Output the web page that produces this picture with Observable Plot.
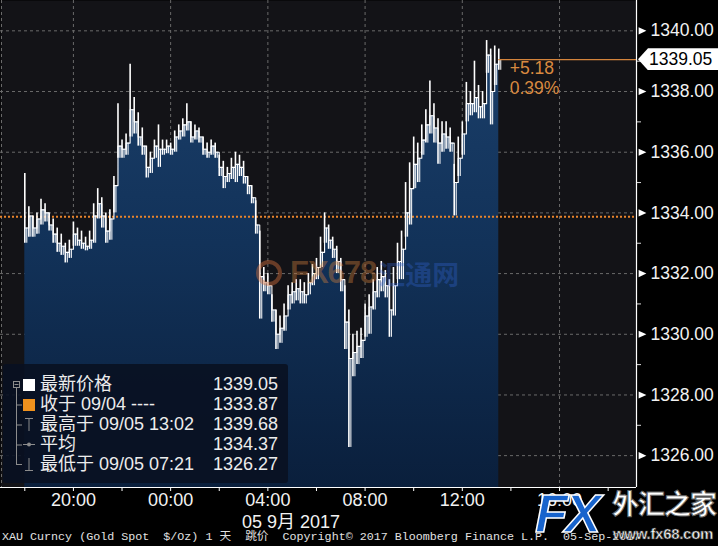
<!DOCTYPE html>
<html>
<head>
<meta charset="utf-8">
<script src="https://cdn.jsdelivr.net/npm/d3@7"></script>
<script src="https://cdn.jsdelivr.net/npm/@observablehq/plot@0.6"></script>
<style>
html, body { margin:0; padding:0; background:#000; }
#wrap { position:relative; width:718px; height:546px; overflow:hidden; background:#000;
  font-family:"Liberation Sans","Noto Sans CJK SC",sans-serif; color:#f0f0f0; }
#wrap > svg { position:absolute; left:0; top:0; }
#legend { position:absolute; left:3px; top:364px; width:285px; height:119px; background:rgba(9,17,33,0.9); border-radius:3px; }
#legend svg { position:absolute; left:0; top:0; }
.lrow { position:absolute; left:0; width:285px; height:20px; font-size:18px; line-height:20px; color:#ececec; }
.lrow .lab { position:absolute; left:37px; white-space:pre; }
.lrow .val { position:absolute; right:10px; }
#dateLabel { position:absolute; left:241px; width:100px; top:507px; text-align:center; font-size:18px; white-space:nowrap; color:#f2f2f2; }
#footer { position:absolute; left:2px; top:530px; height:15px; line-height:15px; font-family:"Liberation Mono","DejaVu Sans Mono","Noto Sans CJK SC",monospace; font-size:11.7px; white-space:pre; color:#e2e2e2; }
#wm678 { position:absolute; left:256px; top:257px; height:32px; display:flex; align-items:center; white-space:nowrap; }
#wm678 .ring { width:18px; height:18px; border-radius:50%; border:4px solid rgba(210,110,60,0.45); margin-right:8px; }
#wm678 .a { font-size:31px; font-weight:bold; color:rgba(205,125,60,0.42); letter-spacing:-1px; }
#wm678 .b { font-size:27px; font-weight:bold; color:rgba(50,100,210,0.35); margin-left:2px; }
#wmfx { position:absolute; left:535px; top:487px; width:183px; height:59px; }
#wmfx .fx { position:absolute; left:0; top:-1px; font-size:54px; line-height:54px; height:54px; font-weight:bold; font-style:italic; color:#1763cc; -webkit-text-stroke:1.5px #ffffff; letter-spacing:-3px; }
#wmfx .cn { position:absolute; left:77px; top:2px; font-size:27px; line-height:32px; height:32px; font-weight:bold; color:#ffffff; -webkit-text-stroke:1px #666; letter-spacing:-1px; white-space:nowrap; }
#wmfx .url { position:absolute; left:78px; top:38px; font-size:15px; line-height:17px; height:17px; font-weight:bold; color:#ffffff; -webkit-text-stroke:0.7px #444; white-space:nowrap; letter-spacing:-0.3px; }
#lastBox { position:absolute; left:638px; width:80px; height:22px; background:#ffffff; clip-path:polygon(0 50%, 10px 0, 100% 0, 100% 100%, 10px 100%); }
#lastBox span { position:absolute; left:11px; top:0; line-height:22px; font-size:17.5px; color:#000; }
</style>
</head>
<body>
<div id="wrap"></div>
<script>
// ---------------- data ----------------
const startUTC = Date.UTC(2017, 8, 4, 18, 0);   // first 10-minute bar (18:00)
const barMinutes = 10;
const high = [
1335.3,1334.2,1333.9,1334.0,1334.45,1334.3,1334.0,1333.8,1333.5,1333.3,
1333.0,1333.1,1333.7,1333.5,1333.4,1333.2,1333.4,1334.3,1334.8,1334.5,
1334.0,1334.1,1335.2,1337.6,1336.4,1336.6,1338.9,1337.8,1337.3,1336.8,
1336.2,1336.0,1336.4,1336.9,1336.4,1336.4,1336.3,1336.7,1336.9,1337.1,
1337.6,1337.0,1336.9,1336.8,1336.5,1336.3,1336.4,1336.3,1335.9,1335.7,
1335.5,1335.8,1336.0,1335.9,1335.7,1335.2,1334.9,1334.4,1333.4,1332.2,
1332.0,1331.3,1330.8,1330.6,1331.0,1331.6,1331.7,1331.8,1331.8,1331.7,
1332.0,1332.3,1332.5,1333.2,1334.0,1333.6,1333.2,1332.9,1332.5,1331.6,
1330.8,1330.0,1330.1,1330.2,1331.0,1331.3,1331.8,1332.2,1332.4,1332.1,
1331.8,1332.2,1333.0,1333.4,1335.0,1335.65,1336.5,1336.3,1336.9,1337.4,
1338.35,1337.6,1337.1,1337.0,1337.0,1336.8,1335.6,1336.5,1337.0,1338.3,
1338.0,1339.0,1338.2,1338.0,1339.68,1339.4,1339.5,1339.4
];
const low = [
1333.0,1333.2,1333.2,1333.3,1333.6,1333.7,1333.4,1333.0,1332.7,1332.6,
1332.35,1332.5,1332.9,1332.9,1332.8,1332.75,1332.8,1333.0,1333.8,1333.5,
1333.0,1333.1,1334.0,1335.8,1335.8,1335.9,1336.5,1336.6,1336.2,1335.9,
1335.15,1335.3,1335.8,1335.5,1335.9,1335.95,1335.9,1336.0,1336.4,1336.5,
1336.7,1336.3,1336.4,1336.3,1335.9,1335.8,1335.9,1335.8,1335.2,1334.8,
1335.0,1335.1,1335.0,1335.2,1334.95,1334.6,1334.3,1333.3,1330.5,1331.4,
1331.3,1330.4,1329.5,1329.7,1330.1,1330.8,1331.0,1331.1,1331.0,1331.0,
1331.3,1331.6,1331.8,1332.2,1333.0,1332.8,1332.5,1332.0,1331.4,1329.5,
1326.27,1328.6,1329.0,1329.2,1329.9,1330.0,1330.8,1331.2,1331.4,1331.2,
1329.9,1330.6,1331.8,1331.8,1333.2,1333.6,1334.8,1335.0,1335.9,1336.3,
1336.6,1336.3,1335.6,1336.0,1336.1,1336.0,1333.9,1335.2,1335.9,1337.0,
1337.2,1337.3,1337.1,1337.1,1338.6,1336.9,1338.2,1338.7
];
const close = [
1333.5,1333.9,1333.5,1333.8,1334.1,1334.0,1333.6,1333.3,1333.0,1332.9,
1332.7,1332.8,1333.3,1333.1,1333.0,1332.9,1333.1,1333.9,1334.3,1333.9,
1333.4,1333.8,1334.9,1336.2,1336.1,1336.3,1337.4,1337.0,1336.5,1336.2,
1335.5,1335.8,1336.2,1336.1,1336.1,1336.2,1336.1,1336.5,1336.7,1336.9,
1337.0,1336.5,1336.7,1336.5,1336.1,1336.0,1336.2,1336.0,1335.5,1335.2,
1335.3,1335.5,1335.6,1335.5,1335.2,1334.9,1334.5,1333.6,1331.9,1331.7,
1331.6,1330.8,1330.0,1330.2,1330.6,1331.3,1331.4,1331.5,1331.4,1331.3,
1331.7,1332.0,1332.2,1332.7,1333.5,1333.1,1332.8,1332.4,1331.8,1330.4,
1329.2,1329.4,1329.6,1329.8,1330.6,1330.9,1331.4,1331.8,1331.9,1331.6,
1330.8,1331.6,1332.4,1332.8,1334.0,1334.8,1335.6,1335.8,1336.4,1336.9,
1337.2,1336.8,1336.3,1336.6,1336.5,1336.3,1335.0,1335.8,1336.6,1337.6,
1337.6,1337.8,1337.5,1337.6,1339.2,1338.0,1338.9,1339.05
];
const prevClose = 1333.87;
const lastPrice = 1339.05;
const changeText = "+5.18";
const changePctText = "0.39%";
const yMajorTicks = [1326, 1328, 1330, 1332, 1334, 1336, 1338, 1340];
const yMinorTicks = [1327, 1329, 1331, 1333, 1335, 1337, 1339];
const yDomain = [1324.95, 1341.0];
const xDomain = [new Date(Date.UTC(2017, 8, 4, 17, 0)), new Date(Date.UTC(2017, 8, 5, 19, 10))];
const xLabelHours = [20, 0, 4, 8, 12, 16];
const xMinorHours = [18, 20, 22, 0, 2, 4, 6, 8, 10, 12, 14, 16, 18];
const dateLabel = "05 9月 2017";
const footerText = "XAU Curncy (Gold Spot  $/Oz) 1 天  跳价  Copyright© 2017 Bloomberg Finance L.P.  05-Sep-2017";
const legendLabels = ["最新价格", "收于 09/04 ----", "最高于 09/05 13:02", "平均", "最低于 09/05 07:21"];
const legendValues = ["1339.05", "1333.87", "1339.68", "1334.37", "1326.27"];

// ---------------- build ----------------
const bars = high.map((h, i) => ({
  t: new Date(startUTC + i * barMinutes * 60000), hi: h, lo: low[i], close: close[i]
}));
const last = bars[bars.length - 1];
function hoursToDates(hours) {
  let day = 4, prev = -1;
  return hours.map(h => { if (h <= prev) day = 5; prev = h; return new Date(Date.UTC(2017, 8, day, h, 0)); });
}
const xLabelTimes = hoursToDates(xLabelHours);
const xMinorTimes = hoursToDates(xMinorHours);

const gradientMark = () => {
  const defs = document.createElementNS("http://www.w3.org/2000/svg", "defs");
  defs.innerHTML = `<linearGradient id="areaGrad" gradientUnits="userSpaceOnUse" x1="0" y1="0" x2="0" y2="487">
    <stop offset="0" stop-color="#1c416d"/><stop offset="0.5" stop-color="#123259"/><stop offset="1" stop-color="#0a1f3c"/></linearGradient>`;
  return defs;
};

const rightTriangle = {
  draw(ctx, size) {
    const s = Math.sqrt(size);
    ctx.moveTo(-s * 0.55, -s * 0.5);
    ctx.lineTo(s * 0.55, 0);
    ctx.lineTo(-s * 0.55, s * 0.5);
    ctx.closePath();
  }
};

const gridStyle = {stroke: "#6a6a6a", strokeOpacity: 1, strokeDasharray: "3,3", strokeWidth: 1};

const chart = Plot.plot({
  width: 718,
  height: 546,
  marginTop: 0,
  marginRight: 82,
  marginBottom: 59,
  marginLeft: 0,
  style: {background: "transparent", color: "#f2f2f2", fontFamily: "'Liberation Sans','Noto Sans CJK SC',sans-serif"},
  x: {type: "utc", domain: xDomain, axis: null},
  y: {domain: yDomain, axis: null},
  marks: [
    gradientMark,
    Plot.frame({fill: "#131317", stroke: null}),
    Plot.gridY(yMajorTicks, gridStyle),
    Plot.gridX(xLabelTimes, gridStyle),
    Plot.ruleX([xDomain[0]], {...gridStyle, dx: 1}),
    Plot.areaY(bars, {x: "t", y1: yDomain[0], y2: "close", curve: "step-after", fill: "url(#areaGrad)"}),
    Plot.ruleY([prevClose], {stroke: "#e8842c", strokeWidth: 2, strokeDasharray: "2,2"}),
    Plot.ruleX(bars, {x: "t", y1: "lo", y2: "hi", stroke: "#ffffff", strokeWidth: 1.6}),
    Plot.ruleX(bars, {x: "t", y1: "lo", y2: "close", dx: 2, stroke: "#ffffff", strokeWidth: 1}),
    Plot.line(bars, {x: "t", y: "close", curve: "step-after", stroke: "#ffffff", strokeWidth: 1.1}),
    Plot.ruleY([lastPrice], {x1: last.t, x2: xDomain[1], stroke: "#d4843c", strokeWidth: 1.2}),
    Plot.text([last], {x: "t", y: () => lastPrice, text: () => changeText, textAnchor: "start", dx: 11, dy: 9, fill: "#d98a40", fontSize: 17.5}),
    Plot.text([last], {x: "t", y: () => lastPrice, text: () => changePctText, textAnchor: "start", dx: 11, dy: 29, fill: "#d98a40", fontSize: 17.5}),
    Plot.axisY(yMinorTicks, {anchor: "right", tickSize: 4, tickFormat: () => "", stroke: "#dddddd", label: null}),
    Plot.axisY(yMajorTicks, {anchor: "right", tickSize: 0, tickPadding: 14, tickFormat: d3.format(".2f"), fontSize: 17.5, fill: "#f2f2f2", label: null}),
    Plot.dot(yMajorTicks, {y: d => d, frameAnchor: "right", dx: 6, symbol: rightTriangle, r: 4, fill: "#ffffff", stroke: null}),
    Plot.axisX(xMinorTimes, {anchor: "bottom", tickSize: 4, tickFormat: () => "", stroke: "#ffffff", label: null}),
    Plot.axisX(xLabelTimes, {anchor: "bottom", tickSize: 0, tickPadding: 6, tickFormat: d3.utcFormat("%H:%M"), fontSize: 18, fill: "#f2f2f2", label: null}),
    Plot.ruleY([yDomain[0]], {stroke: "#ffffff", strokeWidth: 1.2}),
    Plot.ruleX([xDomain[1]], {stroke: "#ffffff", strokeWidth: 1.2})
  ]
});

const wrap = document.getElementById("wrap");
wrap.appendChild(chart);

// last price box positioned with the chart's own y scale
const ys = chart.scale("y");
const yPix = d3.scaleLinear(ys.domain, ys.range);
const lb = document.createElement("div");
lb.id = "lastBox";
lb.style.top = (yPix(lastPrice) - 11) + "px";
lb.innerHTML = `<span>${d3.format(".2f")(lastPrice)}</span>`;
wrap.appendChild(lb);

// center watermark
const wm = document.createElement("div");
wm.id = "wm678";
wm.innerHTML = `<div class="ring"></div><span class="a">FX678</span><span class="b">汇通网</span>`;
wrap.appendChild(wm);

// legend
const legend = document.createElement("div");
legend.id = "legend";
const symColor = "#8c8c8c";
let sym = `<svg width="285" height="119">
  <rect x="10.5" y="17.5" width="6" height="6" fill="none" stroke="${symColor}"/>
  <line x1="11.5" y1="20.5" x2="15.5" y2="20.5" stroke="${symColor}"/>
  <line x1="13.5" y1="24" x2="13.5" y2="101" stroke="${symColor}"/>`;
[41, 61, 81, 100.5].forEach(yy => { sym += `<line x1="13.5" y1="${yy}" x2="19" y2="${yy}" stroke="${symColor}"/>`; });
sym += `<rect x="20" y="15" width="12" height="12" fill="#ffffff"/>
  <rect x="20" y="35" width="12" height="12" fill="#f0921e"/>
  <line x1="22" y1="54.5" x2="30" y2="54.5" stroke="${symColor}"/><line x1="26" y1="54.5" x2="26" y2="67" stroke="${symColor}"/>
  <line x1="20" y1="80.5" x2="32" y2="80.5" stroke="${symColor}"/><circle cx="26" cy="80.5" r="2" fill="${symColor}"/>
  <line x1="26" y1="94" x2="26" y2="106.5" stroke="${symColor}"/><line x1="22" y1="106.5" x2="30" y2="106.5" stroke="${symColor}"/>
  </svg>`;
legend.innerHTML = sym;
legendLabels.forEach((lab, i) => {
  const row = document.createElement("div");
  row.className = "lrow";
  row.style.top = (10 + i * 20) + "px";
  row.innerHTML = `<span class="lab">${lab}</span><span class="val">${legendValues[i]}</span>`;
  legend.appendChild(row);
});
wrap.appendChild(legend);

// date label and footer
const dl = document.createElement("div");
dl.id = "dateLabel"; dl.textContent = dateLabel; wrap.appendChild(dl);
const ft = document.createElement("div");
ft.id = "footer"; ft.textContent = footerText; wrap.appendChild(ft);

// bottom-right watermark
const wf = document.createElement("div");
wf.id = "wmfx";
wf.innerHTML = `<span class="fx">FX</span><span class="cn">外汇之家</span><span class="url">www.fx68.com</span>`;
wrap.appendChild(wf);
</script>
</body>
</html>
